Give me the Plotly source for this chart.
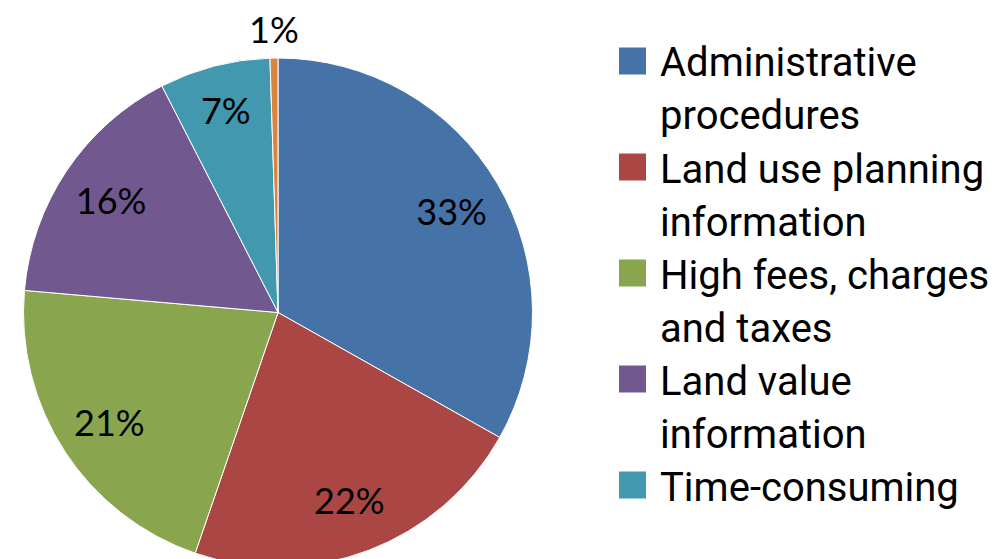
import numpy as np
import plotly.graph_objects as go

categories = ["Administrative procedures", "Land use planning information",
              "High fees, charges and taxes", "Land value information",
              "Time-consuming", "Other"]
values = [33, 22, 21, 16, 7, 0.5]
colors = ["#4572A7", "#AA4643", "#89A54E", "#71588F", "#4198AF", "#DB843D"]
legend_lines = [["Administrative", "procedures"],
                ["Land use planning", "information"],
                ["High fees, charges", "and taxes"],
                ["Land value", "information"],
                ["Time-consuming"]]

W, H = 1008, 559
LABEL_FONT = "Lato"
LEGEND_FONT = "Roboto"
PIE_L, PIE_R, PIE_TOP = 15, 525, 50          # pie box in pixels
dom = dict(x=[PIE_L / W, PIE_R / W], y=[0, 1 - PIE_TOP / H])
textpos = ["inside"] * 5 + ["none"]

# filled pie
fig = go.Figure(go.Pie(
    labels=categories, values=values, sort=False, direction="clockwise",
    marker=dict(colors=colors, line=dict(color="white", width=1)),
    textinfo="none", domain=dom, showlegend=False, hoverinfo="label+percent",
))
# transparent ring that carries the percentage labels near the rim
fig.add_trace(go.Pie(
    labels=categories, values=values, sort=False, direction="clockwise", hole=0.58,
    marker=dict(colors=["rgba(0,0,0,0)"] * len(values), line=dict(width=0)),
    texttemplate="%{percent:.0%}", textposition=textpos,
    insidetextorientation="horizontal",
    textfont=dict(family=LABEL_FONT, size=36, color="black"),
    domain=dom, showlegend=False, hoverinfo="skip",
))

# label of the tiny last slice, placed just outside the rim at its mid-angle
vals = np.array(values, dtype=float)
share = vals / vals.sum()
mid_angle = 2 * np.pi * (share.cumsum()[-1] - share[-1] / 2)   # clockwise from 12 o'clock
R = min(PIE_R - PIE_L, H - PIE_TOP) / 2
cx = (PIE_L + PIE_R) / 2
cy = PIE_TOP + (H - PIE_TOP) / 2
r_lab = R + 29
fig.add_annotation(text=f"{share[-1]:.0%}", xref="paper", yref="paper",
                   x=(cx + r_lab * np.sin(mid_angle)) / W,
                   y=1 - (cy - r_lab * np.cos(mid_angle)) / H,
                   xanchor="center", yanchor="middle", showarrow=False,
                   font=dict(family=LABEL_FONT, size=36, color="black"))

# manual legend (the original legend shows only the first five entries)
y_px = 53
for i, lines in enumerate(legend_lines):
    fig.add_shape(type="rect", xref="paper", yref="paper",
                  x0=611 / W, x1=638 / W, y0=1 - (y_px - 13.5) / H, y1=1 - (y_px + 13.5) / H,
                  fillcolor=colors[i], line=dict(width=0))
    for j, t in enumerate(lines):
        fig.add_annotation(text=t, xref="paper", yref="paper", x=650 / W,
                           y=1 - (y_px + 2 + 53 * j) / H, xanchor="left", yanchor="middle",
                           showarrow=False, font=dict(family=LEGEND_FONT, size=40, color="black"))
    y_px += 106

fig.update_layout(width=W, height=H, margin=dict(l=0, r=0, t=0, b=0),
                  paper_bgcolor="white", plot_bgcolor="white")
fig.write_html("out.html")
